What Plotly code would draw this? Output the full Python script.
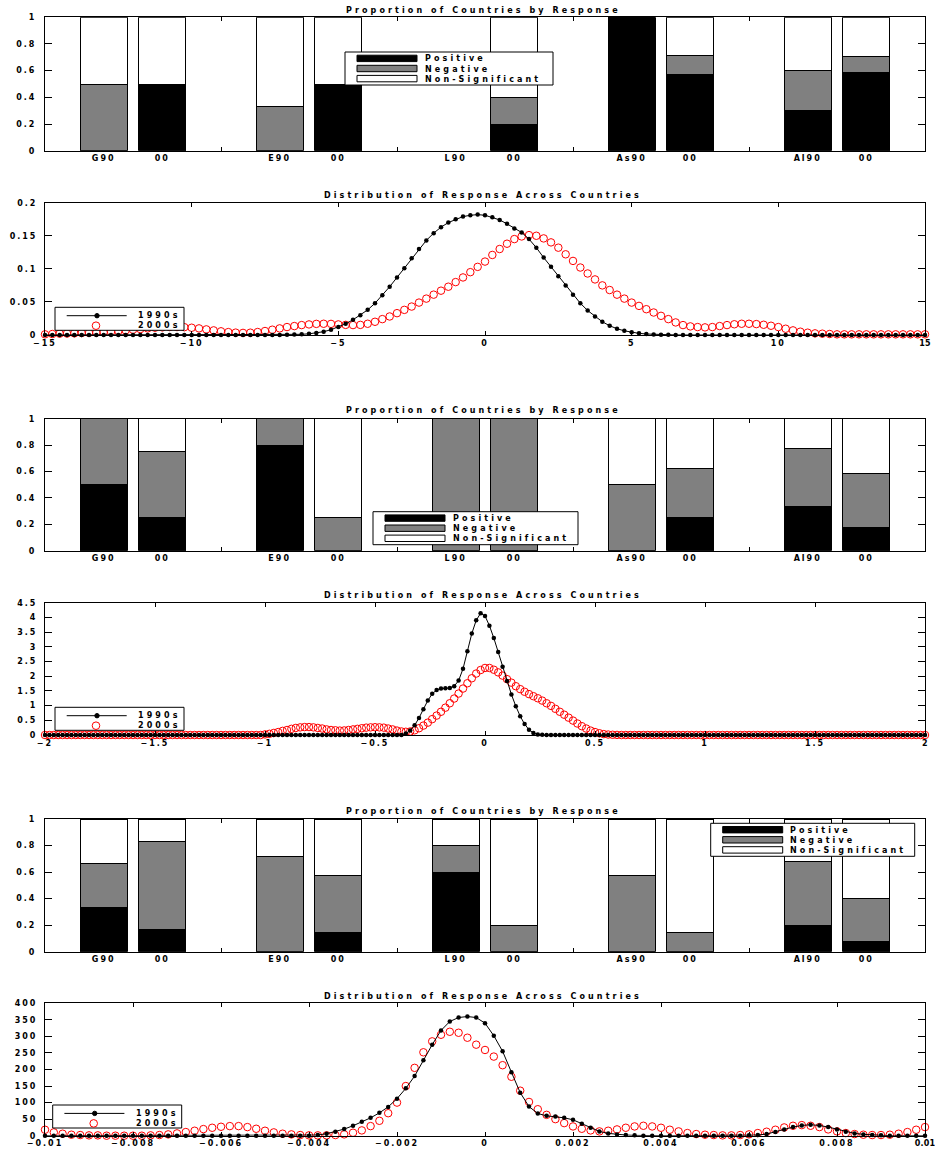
import numpy as np
import plotly.graph_objects as go

# ---------------- data ----------------
bar_labels = ["G90", "00", "E90", "00", "L90", "00", "As90", "00", "Al90", "00"]
group_gaps = [3, 6, 9, 12]

# panel A (top)
pos_a = [0.0, 0.5, 0.0, 0.5, None, 0.2, 1.0, 0.571, 0.3, 0.588]
neg_a = [0.5, 0.0, 0.333, 0.0, None, 0.2, 0.0, 0.143, 0.3, 0.118]
ns_a = [0.5, 0.5, 0.667, 0.5, None, 0.6, 0.0, 0.286, 0.4, 0.294]
# panel B (middle)
pos_b = [0.5, 0.25, 0.8, 0.0, 0.0, 0.0, 0.0, 0.25, 0.333, 0.176]
neg_b = [0.5, 0.5, 0.2, 0.25, 1.0, 1.0, 0.5, 0.375, 0.444, 0.412]
ns_b = [0.0, 0.25, 0.0, 0.75, 0.0, 0.0, 0.5, 0.375, 0.223, 0.412]
# panel C (bottom)
pos_c = [0.333, 0.167, 0.0, 0.143, 0.6, 0.0, 0.0, 0.0, 0.2, 0.08]
neg_c = [0.334, 0.666, 0.714, 0.428, 0.2, 0.2, 0.571, 0.143, 0.48, 0.32]
ns_c = [0.333, 0.167, 0.286, 0.429, 0.2, 0.8, 0.429, 0.857, 0.32, 0.6]

bar_yticks = ["0", "0.2", "0.4", "0.6", "0.8", "1"]

# density 1 (x from -15 to 15)
d1_x = np.linspace(-15, 15, 121)
d1_90 = ([0] * 32 +
         [0.0001, 0.0003, 0.0006, 0.001, 0.0018, 0.003, 0.005, 0.008, 0.012, 0.017,
          0.023, 0.030, 0.038, 0.048, 0.060, 0.073, 0.087, 0.101, 0.116, 0.130,
          0.143, 0.154, 0.163, 0.170, 0.175, 0.179, 0.181, 0.182, 0.181, 0.178,
          0.174, 0.168, 0.161, 0.155, 0.145, 0.132, 0.117, 0.103, 0.089, 0.075,
          0.061, 0.048, 0.037, 0.028, 0.020, 0.014, 0.0095, 0.0063, 0.004, 0.0025,
          0.0015, 0.0009, 0.0005, 0.0003, 0.0001] +
         [0] * 34)
d1_00 = [0.001, 0.0015, 0.002, 0.0022, 0.0025, 0.003, 0.0033, 0.0037, 0.0043, 0.005,
         0.006, 0.007, 0.008, 0.009, 0.010, 0.011, 0.0115, 0.012, 0.012, 0.0118,
         0.011, 0.010, 0.0085, 0.007, 0.0056, 0.0044, 0.0036, 0.0032, 0.0035, 0.0045,
         0.006, 0.008, 0.010, 0.012, 0.0135, 0.015, 0.016, 0.0168, 0.017, 0.0168,
         0.016, 0.0153, 0.015, 0.0153, 0.017, 0.020, 0.024, 0.028, 0.033, 0.038,
         0.043, 0.049, 0.055, 0.061, 0.067, 0.073, 0.080, 0.087, 0.095, 0.103,
         0.111, 0.121, 0.130, 0.138, 0.145, 0.149, 0.151, 0.150, 0.146, 0.140,
         0.132, 0.122, 0.112, 0.102, 0.093, 0.084, 0.075, 0.068, 0.061, 0.055,
         0.049, 0.044, 0.039, 0.034, 0.029, 0.024, 0.019, 0.015, 0.013, 0.012,
         0.0115, 0.012, 0.0135, 0.015, 0.0162, 0.017, 0.017, 0.0165, 0.0155, 0.014,
         0.012, 0.0095, 0.007, 0.005, 0.0035, 0.0025, 0.002, 0.0015] + [0.001] * 13

# density 2 (x from -2 to 2)
d2_x = np.linspace(-2, 2, 201)
d2_90 = ([0] * 82 +
         [0.05, 0.15, 0.33, 0.58, 0.88, 1.17, 1.40, 1.53, 1.58, 1.59,
          1.60, 1.66, 1.85, 2.25, 2.85, 3.45, 3.90, 4.14, 4.05, 3.72,
          3.30, 2.82, 2.32, 1.84, 1.38, 0.98, 0.64, 0.37, 0.18, 0.07,
          0.02, 0.005] +
         [0] * 87)
d2_00 = ([0] * 50 +
         [0.02, 0.04, 0.07, 0.10, 0.14, 0.17, 0.21, 0.24, 0.26, 0.27,
          0.27, 0.26, 0.24, 0.22, 0.19, 0.17, 0.16, 0.15, 0.155, 0.17,
          0.19, 0.21, 0.23, 0.25, 0.26, 0.265, 0.26, 0.25, 0.22, 0.19,
          0.15, 0.12, 0.11, 0.12, 0.16, 0.23, 0.32, 0.42, 0.54, 0.66,
          0.79, 0.93, 1.08, 1.24, 1.41, 1.58, 1.76, 1.93, 2.09, 2.21,
          2.28, 2.28, 2.22, 2.13, 2.02, 1.90, 1.78, 1.66, 1.56, 1.47,
          1.39, 1.32, 1.25, 1.17, 1.08, 0.99, 0.89, 0.79, 0.69, 0.59,
          0.49, 0.39, 0.30, 0.22, 0.15, 0.10, 0.06, 0.03, 0.015, 0.007,
          0.003] +
         [0] * 70)

# density 3 (x from -0.01 to 0.01)
d3_x = np.linspace(-0.01, 0.01, 101)
d3_90 = ([0] * 31 +
         [2, 6, 12, 20, 30, 42, 54, 69, 87, 112,
          143, 180, 228, 275, 318, 345, 357, 360, 357, 340,
          302, 255, 192, 130, 88, 67, 60, 58, 54, 48,
          36, 24, 13, 7, 4, 2, 1] +
         [0] * 12 +
         [1, 2, 5, 11, 19, 26, 31, 33, 31, 26, 19, 12, 7, 4, 2, 1] +
         [0] * 5)
d3_00 = [18, 10, 6, 3, 2, 1, 1, 0, 0, 0,
         0, 0, 1, 2, 4, 7, 11, 15, 20, 24,
         27, 29, 29, 26, 21, 15, 10, 6, 4, 2,
         1, 1, 1, 2, 4, 9, 16, 29, 45, 68,
         100, 150, 205, 252, 285, 305, 314, 311, 296, 275,
         259, 239, 213, 178, 136, 102, 80, 63, 50, 38,
         28, 21, 16, 13, 15, 19, 24, 28, 30, 28,
         24, 18, 13, 8, 5, 3, 2, 1, 1, 2,
         4, 8, 12, 18, 25, 30, 32, 30, 26, 19,
         13, 8, 5, 3, 2, 2, 3, 6, 11, 18,
         26]

d1_xt = ["−15", "−10", "−5", "0", "5", "10", "15"]
d1_yt = ["0", "0.05", "0.1", "0.15", "0.2"]
d2_xt = ["−2", "−1.5", "−1", "−0.5", "0", "0.5", "1", "1.5", "2"]
d2_yt = ["0", "0.5", "1", "1.5", "2", "2.5", "3", "3.5", "4", "4.5"]
d3_xt = ["−0.01", "−0.008", "−0.006", "−0.004", "−0.002", "0", "0.002", "0.004",
         "0.006", "0.008", "0.01"]
d3_yt = ["0", "50", "100", "150", "200", "250", "300", "350", "400"]

bar_title = "Proportion of Countries by Response"
dens_title = "Distribution of Response Across Countries"
bar_names = ["Positive", "Negative", "Non-Significant"]
dens_names = ["1990s", "2000s"]

# ---------------- layout helpers ----------------
W, H = 935, 1151
FONT = "DejaVu Sans"
X0, X1 = 45, 925
panel_px = [(17.3, 150.7), (202.7, 335.0), (418.7, 550.7),
            (602.7, 735.0), (819.0, 951.7), (1003.3, 1135.7)]
title_px = [10.7, 195.0, 410.7, 595.0, 811.5, 996.0]
TICK_LS = 2.0
TEXT_LS = 3.1
EDGE_LS = 0.2
TXT_FONT = dict(family=FONT, size=8, color="black", weight="bold")


def px(x):
    return x / W


def py(y):
    return 1 - y / H


def spaced(t, s):
    return f'<span style="letter-spacing:{s}px">{t}</span>'


def tick_texts(labels, last_tight=False):
    out = [spaced(t, TICK_LS) for t in labels]
    if last_tight:
        out[-1] = spaced(labels[-1], EDGE_LS)
    return out


def num(t):
    return float(t.replace("−", "-"))


def ax_ids(n):
    return ("x" if n == 1 else f"x{n}", "y" if n == 1 else f"y{n}")


def ax_keys(n):
    return ("xaxis" if n == 1 else f"xaxis{n}", "yaxis" if n == 1 else f"yaxis{n}")


bar_x = [i + i // 2 + 1 for i in range(len(bar_labels))]

fig = go.Figure()
layout = {}
shapes = []
annotations = []

common = dict(showline=True, linecolor="black", linewidth=1, mirror="ticks",
              showgrid=False, zeroline=False, fixedrange=True, automargin=False,
              tickcolor="black", tickwidth=1, ticklabeloverflow="allow",
              tickfont=TXT_FONT)

# ---------- bar panels ----------
bar_sets = [(pos_a, neg_a, ns_a), (pos_b, neg_b, ns_b), (pos_c, neg_c, ns_c)]
bar_colors = ["black", "#808080", "white"]
for k, series in enumerate(bar_sets):
    n = 2 * k + 1
    xa, ya = ax_ids(n)
    xk, yk = ax_keys(n)
    for name, vals, col in zip(bar_names, series, bar_colors):
        fig.add_trace(go.Bar(
            x=bar_x, y=vals, name=name, width=0.8,
            marker=dict(color=col, line=dict(color="black", width=1)),
            xaxis=xa, yaxis=ya, showlegend=False))
    top, bot = panel_px[n - 1]
    layout[xk] = dict(domain=[px(X0), px(X1)], range=[0, 15], anchor=ya,
                      tickmode="array", tickvals=bar_x,
                      ticktext=tick_texts(bar_labels),
                      ticks="inside", ticklen=0,
                      minor=dict(tickmode="array", tickvals=group_gaps,
                                 ticks="inside", ticklen=4, tickcolor="black",
                                 showgrid=False),
                      **common)
    layout[yk] = dict(domain=[py(bot), py(top)], range=[0, 1], anchor=xa,
                      tickmode="array", tickvals=[num(t) for t in bar_yticks],
                      ticktext=tick_texts(bar_yticks),
                      ticks="inside", ticklen=7, ticklabelstandoff=6, **common)

# ---------- density panels ----------
dens_sets = [(d1_x, d1_90, d1_00, d1_xt, d1_yt),
             (d2_x, d2_90, d2_00, d2_xt, d2_yt),
             (d3_x, d3_90, d3_00, d3_xt, d3_yt)]
for k, (xx, b90, r00, xt, yt) in enumerate(dens_sets):
    n = 2 * k + 2
    xa, ya = ax_ids(n)
    xk, yk = ax_keys(n)
    fig.add_trace(go.Scatter(
        x=xx, y=r00, mode="markers", name=dens_names[1],
        marker=dict(symbol="circle-open", size=7.5, color="red",
                    line=dict(width=1, color="red")),
        xaxis=xa, yaxis=ya, cliponaxis=False, showlegend=False))
    fig.add_trace(go.Scatter(
        x=xx, y=b90, mode="lines+markers", name=dens_names[0],
        line=dict(color="black", width=1),
        marker=dict(symbol="circle", size=4.5, color="black"),
        xaxis=xa, yaxis=ya, cliponaxis=False, showlegend=False))
    top, bot = panel_px[n - 1]
    xv = [num(t) for t in xt]
    yv = [num(t) for t in yt]
    layout[xk] = dict(domain=[px(X0), px(X1)], range=[xv[0], xv[-1]], anchor=ya,
                      tickmode="array", tickvals=xv,
                      ticktext=tick_texts(xt, last_tight=True),
                      ticks="inside", ticklen=4, **common)
    layout[yk] = dict(domain=[py(bot), py(top)], range=[yv[0], yv[-1]], anchor=xa,
                      tickmode="array", tickvals=yv,
                      ticktext=tick_texts(yt),
                      ticks="inside", ticklen=7, ticklabelstandoff=5, **common)

# ---------- titles ----------
for i, ty in enumerate(title_px):
    annotations.append(dict(
        text=spaced(bar_title if i % 2 == 0 else dens_title, TEXT_LS),
        x=px(483), y=py(ty), xref="paper", yref="paper",
        xanchor="center", yanchor="middle", showarrow=False,
        font=TXT_FONT))


# ---------- legends ----------
def rect(x0, y0, x1, y1, fill, line="black"):
    shapes.append(dict(type="rect", xref="paper", yref="paper",
                       x0=px(x0), x1=px(x1), y0=py(y1), y1=py(y0),
                       fillcolor=fill, line=dict(color=line, width=1), layer="above"))


def label(t, x, y):
    annotations.append(dict(text=spaced(t, TEXT_LS), x=px(x), y=py(y),
                            xref="paper", yref="paper", xanchor="left",
                            yanchor="middle", showarrow=False,
                            font=TXT_FONT))


def bar_legend(x0, y0, w):
    rect(x0, y0, x0 + w, y0 + 33, "white")
    for j, (name, col) in enumerate(zip(bar_names, bar_colors)):
        cy = y0 + 6.4 + 10.1 * j
        rect(x0 + 12, cy - 3.2, x0 + 72, cy + 3.2, col)
        label(name, x0 + 77.5, cy + 0.5)


def dens_legend(x0, y0):
    rect(x0, y0, x0 + 129, y0 + 23, "white")
    cy1, cy2 = y0 + 8.4, y0 + 18.4
    shapes.append(dict(type="line", xref="paper", yref="paper",
                       x0=px(x0 + 11.7), x1=px(x0 + 71.7), y0=py(cy1), y1=py(cy1),
                       line=dict(color="black", width=1), layer="above"))
    shapes.append(dict(type="circle", xref="paper", yref="paper",
                       x0=px(x0 + 42 - 2.2), x1=px(x0 + 42 + 2.2),
                       y0=py(cy1 + 2.2), y1=py(cy1 - 2.2),
                       fillcolor="black", line=dict(color="black", width=1), layer="above"))
    shapes.append(dict(type="circle", xref="paper", yref="paper",
                       x0=px(x0 + 41 - 3.8), x1=px(x0 + 41 + 3.8),
                       y0=py(cy2 + 3.8), y1=py(cy2 - 3.8),
                       fillcolor="rgba(0,0,0,0)", line=dict(color="red", width=1), layer="above"))
    label(dens_names[0], x0 + 81, cy1)
    label(dens_names[1], x0 + 81, cy2)


bar_legend(345, 52, 208)
dens_legend(55, 307.3)
bar_legend(373, 511.7, 205)
dens_legend(55, 707.3)
bar_legend(710.7, 823.3, 204)
dens_legend(52.7, 1105)

fig.update_layout(
    width=W, height=H, autosize=False,
    margin=dict(l=0, r=0, t=0, b=0, pad=0, autoexpand=False),
    paper_bgcolor="white", plot_bgcolor="white",
    barmode="stack", showlegend=False,
    font=TXT_FONT,
    shapes=shapes, annotations=annotations,
    **layout)

fig.write_html("out.html")
